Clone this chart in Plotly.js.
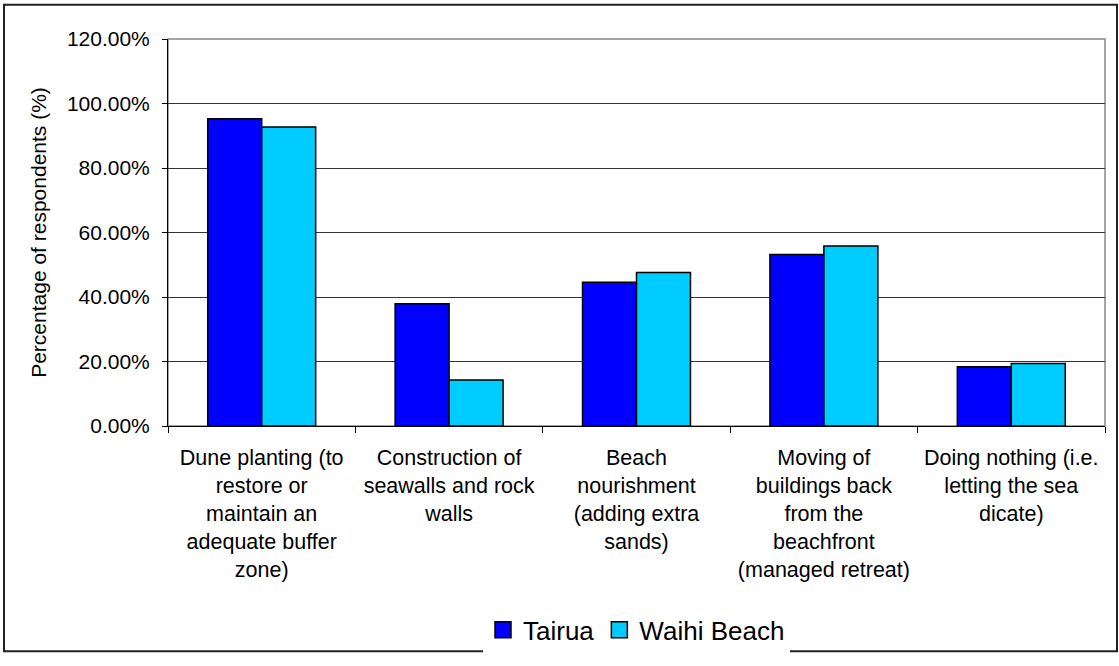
<!DOCTYPE html>
<html>
<head>
<meta charset="utf-8">
<script src="https://cdn.plot.ly/plotly-3.0.1.min.js"></script>
<style>
  html, body { margin: 0; padding: 0; background: #fff; }
  #chart { width: 1119px; height: 666px; }
</style>
</head>
<body>
<div id="chart"></div>
<script>
const categories = [
  "Dune planting (to<br>restore or<br>maintain an<br>adequate buffer<br>zone)",
  "Construction of<br>seawalls and rock<br>walls",
  "Beach<br>nourishment<br>(adding extra<br>sands)",
  "Moving of<br>buildings back<br>from the<br>beachfront<br>(managed retreat)",
  "Doing nothing (i.e.<br>letting the sea<br>dicate)"
];
const seriesNames = ["Tairua", "Waihi Beach"];
const tairua = [0.953, 0.379, 0.446, 0.532, 0.184];
const waihiBeach = [0.927, 0.143, 0.476, 0.558, 0.194];
const yTickValues = [0, 0.2, 0.4, 0.6, 0.8, 1.0, 1.2];

const colors = ["#0000FF", "#00CCFF"];
const FONT = "Liberation Sans, Arial, sans-serif";

const traces = [
  {
    type: "bar", name: seriesNames[0], x: categories, y: tairua,
    marker: { color: colors[0], line: { color: "#000", width: 1.5 } },
    showlegend: false, hoverinfo: "y"
  },
  {
    type: "bar", name: seriesNames[1], x: categories, y: waihiBeach,
    marker: { color: colors[1], line: { color: "#000", width: 1.5 } },
    showlegend: false, hoverinfo: "y"
  },
  {
    type: "scatter", mode: "markers", name: seriesNames[0], x: [null], y: [null],
    marker: { symbol: "square", size: 16, color: colors[0], line: { color: "#000", width: 1.5 } }
  },
  {
    type: "scatter", mode: "markers", name: seriesNames[1], x: [null], y: [null],
    marker: { symbol: "square", size: 16, color: colors[1], line: { color: "#000", width: 1.5 } }
  }
];

const layout = {
  width: 1119, height: 666,
  margin: { l: 168, r: 14, t: 39, b: 232 },
  paper_bgcolor: "#fff", plot_bgcolor: "#fff",
  font: { family: FONT, color: "#000", size: 21 },
  barmode: "group", bargap: 0.424, bargroupgap: 0,
  showlegend: true,
  legend: {
    orientation: "h", x: 0.5, xanchor: "center", y: -0.527, yanchor: "middle",
    font: { family: FONT, size: 26, color: "#000" },
    itemwidth: 30, tracegroupgap: 0
  },
  xaxis: {
    type: "category", automargin: false,
    showline: true, linecolor: "#000", linewidth: 1,
    ticks: "outside", tickson: "boundaries", ticklen: 6, tickcolor: "#000",
    ticklabelstandoff: 12,
    tickfont: { family: FONT, size: 21.5, color: "#000" },
    showgrid: false, zeroline: false, fixedrange: true
  },
  yaxis: {
    range: [0, 1.2], tickvals: yTickValues, tickformat: ".2%",
    automargin: false,
    showline: true, linecolor: "#000", linewidth: 1,
    ticks: "outside", ticklen: 5, tickcolor: "#000",
    ticklabelstandoff: 8,
    showgrid: true, gridcolor: "#333", gridwidth: 1,
    zeroline: false,
    tickfont: { family: FONT, size: 21, color: "#000" },
    title: { text: "Percentage of respondents (%)", font: { family: FONT, size: 21, color: "#000" }, standoff: 14 },
    fixedrange: true
  },
  shapes: [
    { type: "rect", xref: "paper", yref: "paper", x0: 0, x1: 1, y0: 0, y1: 1,
      line: { color: "#888", width: 1.5 }, layer: "below" },
    { type: "rect", xref: "paper", yref: "paper",
      x0: (4 - 168) / 937, x1: (1117 - 168) / 937,
      y0: (434 - 664) / 395, y1: (434 - 4) / 395,
      line: { color: "#222", width: 2 }, layer: "above" }
  ]
};

Plotly.newPlot("chart", traces, layout, { displayModeBar: false, staticPlot: true });
</script>
</body>
</html>
